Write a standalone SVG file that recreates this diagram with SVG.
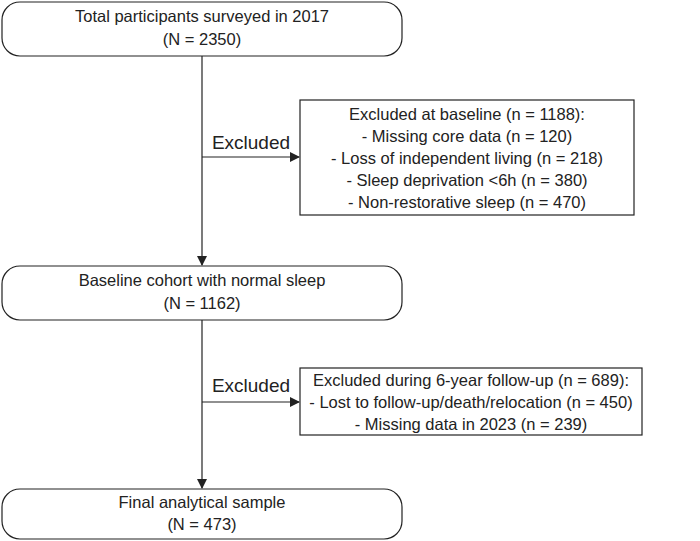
<svg xmlns="http://www.w3.org/2000/svg" width="700" height="541" viewBox="0 0 700 541">
<style>
text{font-family:"Liberation Sans",Arial,sans-serif;font-size:16.5px;fill:#222;text-anchor:middle}
.n{fill:#fff;stroke:#222;stroke-width:1.2}
.c{stroke:#222;stroke-width:1.2;fill:none;marker-end:url(#a)}
.l{font-size:19px}
</style>
<defs><marker id="a" markerWidth="10" markerHeight="10" refX="9" refY="5" orient="auto" markerUnits="userSpaceOnUse"><path d="M0,0 L10,5 L0,10 z" fill="#222"/></marker></defs>
<rect width="700" height="541" fill="#fff"/>
<g id="connectors">
<path class="c" d="M202,56 V265"/>
<path class="c" d="M202,157 H299"/>
<path class="c" d="M202,320 V488"/>
<path class="c" d="M202,402 H299"/>
<text class="l" x="251" y="149">Excluded</text>
<text class="l" x="251" y="392">Excluded</text>
</g>
<g id="n1"><rect class="n" x="2" y="2" width="400" height="54" rx="18"/><text x="202" y="22">Total participants surveyed in 2017</text><text x="202" y="45">(N = 2350)</text></g>
<g id="n2"><rect class="n" x="300" y="100" width="334" height="115"/><text x="467" y="120">Excluded at baseline (n = 1188):</text><text x="467" y="142">- Missing core data (n = 120)</text><text x="467" y="164">- Loss of independent living (n = 218)</text><text x="467" y="186">- Sleep deprivation &lt;6h (n = 380)</text><text x="467" y="208">- Non-restorative sleep (n = 470)</text></g>
<g id="n3"><rect class="n" x="2" y="266" width="400" height="54" rx="18"/><text x="202" y="286">Baseline cohort with normal sleep</text><text x="202" y="309">(N = 1162)</text></g>
<g id="n4"><rect class="n" x="300" y="368" width="342" height="67"/><text x="471" y="386">Excluded during 6-year follow-up (n = 689):</text><text x="471" y="408">- Lost to follow-up/death/relocation (n = 450)</text><text x="471" y="430">- Missing data in 2023 (n = 239)</text></g>
<g id="n5"><rect class="n" x="2" y="489" width="400" height="50" rx="18"/><text x="202" y="508">Final analytical sample</text><text x="202" y="530">(N = 473)</text></g>
</svg>
